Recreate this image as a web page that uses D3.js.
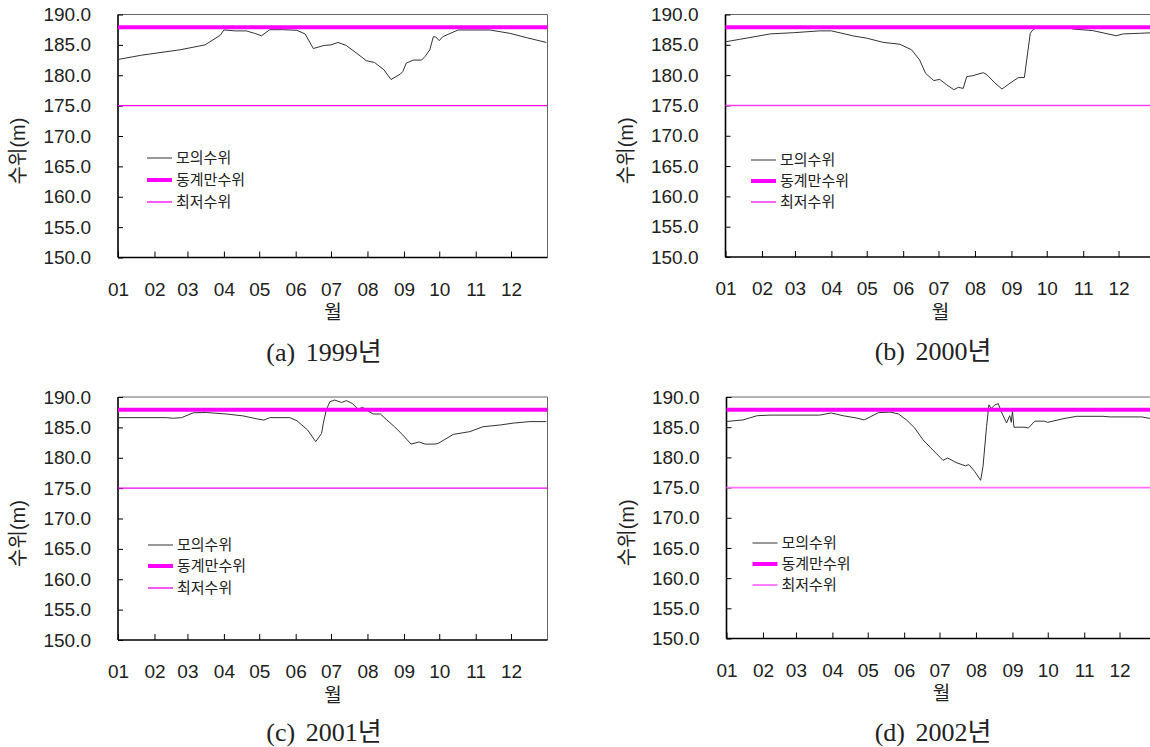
<!DOCTYPE html>
<html>
<head>
<meta charset="utf-8">
<script src="https://cdn.jsdelivr.net/npm/d3@7"></script>
<style>
  body { margin: 0; background: #fff; }
  svg text { font-family: "Liberation Sans", "Noto Sans CJK KR", sans-serif; fill: #222; }
</style>
</head>
<body>
<div id="chart"></div>
<script>
// month ticks (day of year where each month starts)
const monthLabels = ["01", "02", "03", "04", "05", "06", "07", "08", "09", "10", "11", "12"];
const monthStartDays = [0, 31, 59, 90, 120, 151, 181, 212, 243, 273, 304, 334];
const yTicks = [150, 155, 160, 165, 170, 175, 180, 185, 190];

const winterLevel = 187.9;   // 동계만수위
const lowestLevel = 175.0;   // 최저수위
const legendLabels = ["모의수위", "동계만수위", "최저수위"];
const captions = ["(a) 1999년", "(b) 2000년", "(c) 2001년", "(d) 2002년"];

// simulated water level (모의수위), day of year / level (m)
const days1999 = [0, 20, 53, 74, 78, 87, 90, 100, 109, 116, 122, 129, 140, 152, 159, 166, 175, 181, 187, 194, 203, 211, 218, 226, 232, 240, 242, 245, 251, 258, 261, 265, 268, 270, 273, 276, 289, 316, 333, 347, 364];
const level1999 = [182.6, 183.3, 184.2, 185.0, 185.5, 186.6, 187.45, 187.3, 187.3, 186.9, 186.5, 187.5, 187.5, 187.4, 186.8, 184.4, 184.9, 185.0, 185.4, 184.9, 183.6, 182.4, 182.1, 180.9, 179.3, 180.2, 180.6, 182.0, 182.5, 182.5, 183.1, 184.2, 186.35, 186.3, 185.7, 186.35, 187.45, 187.45, 186.9, 186.2, 185.4];

const days2000 = [0, 12, 38, 58, 80, 90, 109, 120, 134, 148, 158, 165, 170, 177, 182, 188, 194, 198, 202, 205, 210, 219, 222, 229, 235, 242, 249, 254, 259, 261.5, 265, 292, 295.5, 312, 332, 338, 352, 364];
const level2000 = [185.5, 185.9, 186.8, 187.0, 187.3, 187.3, 186.45, 186.1, 185.4, 185.1, 184.2, 182.5, 180.3, 179.1, 179.3, 178.4, 177.6, 178.0, 177.8, 179.75, 179.9, 180.4, 180.1, 178.7, 177.7, 178.7, 179.6, 179.6, 186.9, 187.55, 187.8, 187.8, 187.6, 187.35, 186.5, 186.8, 186.9, 187.0];

const days2001 = [0, 41, 47, 54, 64, 75, 92, 106, 118, 124, 129, 146, 152, 161, 168, 173, 174.5, 177, 180, 184, 190, 194, 199, 204, 208, 213, 217, 223, 228, 235, 242, 249, 256, 261, 269, 272, 285, 299, 310, 325, 336, 350, 364];
const level2001 = [186.6, 186.6, 186.5, 186.6, 187.4, 187.45, 187.2, 186.9, 186.4, 186.2, 186.6, 186.6, 186.1, 184.6, 182.65, 184.0, 185.7, 187.85, 189.2, 189.5, 189.1, 189.4, 188.95, 188.0, 188.3, 187.6, 187.2, 187.2, 186.3, 185.1, 183.75, 182.25, 182.6, 182.25, 182.25, 182.35, 183.85, 184.3, 185.1, 185.4, 185.7, 185.95, 185.95];

const days2002 = [0, 14, 26, 37, 79, 89, 99, 111, 117, 122, 129, 139, 146, 153, 160, 167, 173, 178, 184, 188, 195, 203, 206, 211, 216, 218, 221, 223, 225, 228, 231, 233.5, 238, 240.7, 242, 243, 244.3, 253.7, 256.5, 262, 270, 273, 286, 297.6, 320, 326, 353, 364];
const level2002 = [185.95, 186.2, 186.9, 187.0, 187.0, 187.35, 186.9, 186.5, 186.2, 186.7, 187.4, 187.5, 187.2, 186.2, 184.85, 182.9, 181.7, 180.7, 179.5, 179.9, 179.15, 178.6, 178.8, 177.65, 176.2, 178.5, 185.1, 188.7, 188.1, 188.7, 188.9, 187.55, 185.7, 186.9, 185.8, 187.6, 185.0, 185.0, 184.85, 186.0, 186.0, 185.8, 186.4, 186.8, 186.8, 186.7, 186.7, 186.3];

const W = 1150, H = 747;
const svg = d3.select("#chart").append("svg")
  .attr("width", W)
  .attr("height", H);

// panel layout
const panels = [
  { days: days1999, levels: level1999, x0: 118, top: 14.5, bottom: 257.5, capX: 324, capY: 352, lowColor: "#ff00ff", lowW: 1.3, legX: 29, legY: [158, 180, 202] },
  { days: days2000, levels: level2000, x0: 725.5, top: 14.5, bottom: 257, capX: 933, capY: 351, lowColor: "#f040f0", lowW: 1.6, legX: 25.5, legY: [160, 181, 202] },
  { days: days2001, levels: level2001, x0: 118, top: 397, bottom: 640, capX: 324, capY: 732, lowColor: "#ee00ee", lowW: 1.3, legX: 30, legY: [545, 566, 588] },
  { days: days2002, levels: level2002, x0: 726.5, top: 397, bottom: 638.5, capX: 933, capY: 732, lowColor: "#ff70ff", lowW: 1.8, legX: 26, legY: [543, 564, 585] }
];
const plotW = 429.5;

panels.forEach(function (p, i) {
  const g = svg.append("g");

  const x = d3.scaleLinear().domain([0, 365]).range([p.x0, p.x0 + plotW]);
  const y = d3.scaleLinear().domain([150, 190]).range([p.bottom, p.top]);

  // top and right frame
  g.append("path")
    .attr("d", `M${p.x0},${p.top}H${p.x0 + plotW}V${p.bottom}`)
    .attr("fill", "none")
    .attr("stroke", "#666")
    .attr("stroke-width", 1);

  const yAxis = d3.axisLeft(y)
    .tickValues(yTicks)
    .tickSize(-5)
    .tickPadding(27)
    .tickFormat(d3.format(".1f"));

  const ya = g.append("g")
    .attr("transform", `translate(${p.x0},0)`)
    .call(yAxis);

  const xAxis = d3.axisBottom(x)
    .tickValues(monthStartDays)
    .tickSize(-6)
    .tickPadding(25)
    .tickFormat((d, k) => monthLabels[k]);

  const xa = g.append("g")
    .attr("transform", `translate(0,${p.bottom})`)
    .call(xAxis);

  [ya, xa].forEach(a => {
    a.select(".domain").attr("stroke", "#000").attr("stroke-width", 1.6);
    a.selectAll(".tick line").attr("stroke", "#000").attr("stroke-width", 1);
    a.selectAll(".tick text").style("font-size", "19px").attr("fill", "#222");
  });
  xa.select(".domain").attr("d", `M${p.x0},0H${p.x0 + plotW}`);
  ya.select(".domain").attr("d", `M0,${p.bottom}V${p.top}`);

  // simulated level
  const line = d3.line()
    .x((d, k) => x(p.days[k]))
    .y(d => y(d));

  g.append("path")
    .datum(p.levels)
    .attr("d", line)
    .attr("fill", "none")
    .attr("stroke", "#333")
    .attr("stroke-width", 1);

  // lowest level
  g.append("line")
    .attr("x1", x(0)).attr("x2", x(365))
    .attr("y1", y(lowestLevel)).attr("y2", y(lowestLevel))
    .attr("stroke", p.lowColor)
    .attr("stroke-width", p.lowW);

  // winter full level
  g.append("line")
    .attr("x1", x(0)).attr("x2", x(365))
    .attr("y1", y(winterLevel)).attr("y2", y(winterLevel))
    .attr("stroke", "#ff00ff")
    .attr("stroke-width", 4);

  // legend
  const legStyles = [
    { color: "#333", w: 1 },
    { color: "#ff00ff", w: 4 },
    { color: p.lowColor, w: p.lowW }
  ];
  legendLabels.forEach(function (lab, k) {
    const ly = p.legY[k];
    g.append("line")
      .attr("x1", p.x0 + p.legX).attr("x2", p.x0 + p.legX + 25)
      .attr("y1", ly).attr("y2", ly)
      .attr("stroke", legStyles[k].color)
      .attr("stroke-width", legStyles[k].w);
    g.append("text")
      .attr("x", p.x0 + p.legX + 29)
      .attr("y", ly)
      .attr("dy", "0.35em")
      .style("font-size", "15px")
      .text(lab);
  });

  // axis titles
  g.append("text")
    .attr("transform", `translate(${p.x0 - 100},${(p.top + p.bottom) / 2 + 15}) rotate(-90)`)
    .attr("text-anchor", "middle")
    .attr("dy", "0.35em")
    .style("font-size", "20px")
    .text("수위(m)");

  g.append("text")
    .attr("x", x(181) + 2)
    .attr("y", p.bottom + 55)
    .attr("text-anchor", "middle")
    .attr("dy", "0.35em")
    .style("font-size", "19px")
    .text("월");

  // caption
  g.append("text")
    .attr("x", p.capX)
    .attr("y", p.capY)
    .attr("text-anchor", "middle")
    .attr("dy", "0.35em")
    .style("font-family", "\"Liberation Serif\", \"Noto Sans CJK KR\", serif")
    .style("font-size", "26px")
    .style("word-spacing", "4px")
    .text(captions[i]);
});
</script>
</body>
</html>
